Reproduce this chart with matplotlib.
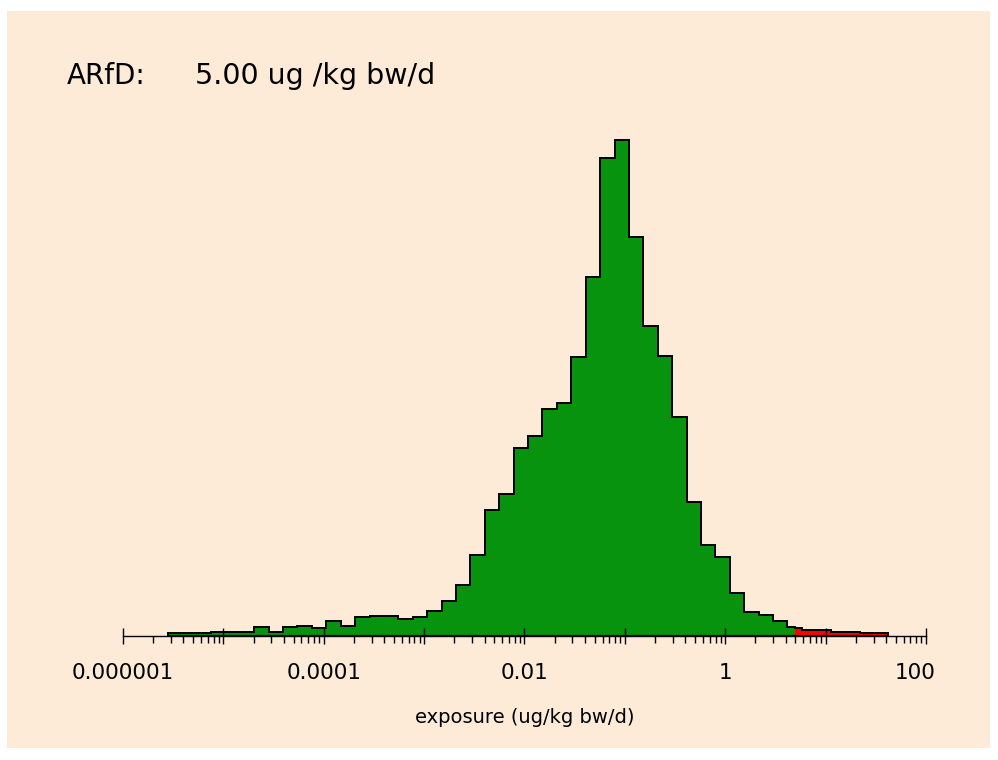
import numpy as np
import matplotlib
matplotlib.use("Agg")
import matplotlib.pyplot as plt
import matplotlib.transforms as mtransforms
from matplotlib.patches import Rectangle
from matplotlib.ticker import LogLocator, NullFormatter

# acute reference dose, exposure above it is drawn in red
arfd = 5.0

# histogram of log10(exposure): 50 equal bins
log_lo, log_hi, n_bins = -5.554, 1.625, 50

# bar heights (relative frequency, arbitrary units)
heights = [2.7, 2.7, 2.7, 4.3, 4.3, 4.3, 8.7, 4.3, 8.7, 10.5,
           8.3, 14.7, 10.3, 18.7, 20.3, 20.3, 16.7, 18.7, 24.7, 34.7,
           51.0, 81.3, 125.7, 141.7, 188.3, 200.3, 226.7, 232.7, 279.3, 358.7,
           477.7, 495.7, 398.7, 310.0, 280.0, 218.7, 133.7, 91.3, 79.0, 42.7,
           24.5, 20.7, 14.7, 8.7, 6.0, 6.0, 4.3, 4.3, 2.7, 2.7]
# height of the part of the bin that straddles the ARfD lying above it
straddle_above = 7.7

tick_values = [1e-6, 1e-4, 1e-2, 1, 100]
tick_labels = ["0.000001", "0.0001", "0.01", "1", "100"]

bg = "#fdebd8"
green = "#08930f"
red = "#ff0000"

edges = 10 ** np.linspace(log_lo, log_hi, n_bins + 1)
heights = np.array(heights)

# split the bins at the ARfD
k = np.searchsorted(edges, arfd)  # edges[k-1] < arfd < edges[k]
g_edges = np.append(edges[:k], arfd)
g_vals = heights[:k]
r_edges = np.insert(edges[k:], 0, arfd)
r_vals = np.insert(heights[k:], 0, straddle_above)

fig = plt.figure(figsize=(9.98, 7.6), dpi=100, facecolor="white")
fig.patches.append(Rectangle((7 / 998, 12 / 760), 983 / 998, 737 / 760,
                             transform=fig.transFigure, facecolor=bg,
                             edgecolor="none", zorder=-10))

ax = fig.add_axes([123 / 998, 124 / 760, 803 / 998, 506 / 760])
ax.set_facecolor("none")
ax.set_xscale("log")

ax.stairs(g_vals, g_edges, fill=True, color=green, lw=0)
ax.stairs(r_vals, r_edges, fill=True, color=red, lw=0)
all_edges = np.concatenate([g_edges, r_edges[1:]])
all_vals = np.concatenate([g_vals, r_vals])
ax.stairs(all_vals, all_edges, fill=False, color="black", lw=1.4, baseline=0)
ax.hlines(0, all_edges[0], all_edges[-1], color="black", lw=1.6)

ax.set_xlim(1e-6, 100)
ax.set_ylim(0, 506)

for side in ["left", "top", "right"]:
    ax.spines[side].set_visible(False)
ax.spines["bottom"].set_linewidth(1.0)
ax.set_yticks([])

decades = 10.0 ** np.arange(-6, 3)
labels = [tick_labels[tick_values.index(d)] if d in tick_values else ""
          for d in decades]
ax.set_xticks(decades, labels=labels)
ax.xaxis.set_minor_locator(LogLocator(base=10, subs=np.arange(2, 10)))
ax.xaxis.set_minor_formatter(NullFormatter())
ax.tick_params(axis="x", which="major", direction="inout", length=11,
               width=1.0, pad=14, labelsize=15.5)
ax.tick_params(axis="x", which="minor", direction="out", length=5,
               width=1.0)

# the last label sits a little left of its tick in the original
last = ax.get_xticklabels()[-1]
last.set_transform(last.get_transform() +
                   mtransforms.ScaledTranslation(-0.11, 0, fig.dpi_scale_trans))

ax.set_xlabel("exposure (ug/kg bw/d)", fontsize=14, labelpad=18)

fig.text(67 / 998, 1 - 84 / 760, "ARfD:", fontsize=20, va="baseline")
fig.text(195 / 998, 1 - 84 / 760, "5.00 ug /kg bw/d", fontsize=20.5,
         va="baseline")

fig.savefig("out.png", dpi=100, facecolor="white")
